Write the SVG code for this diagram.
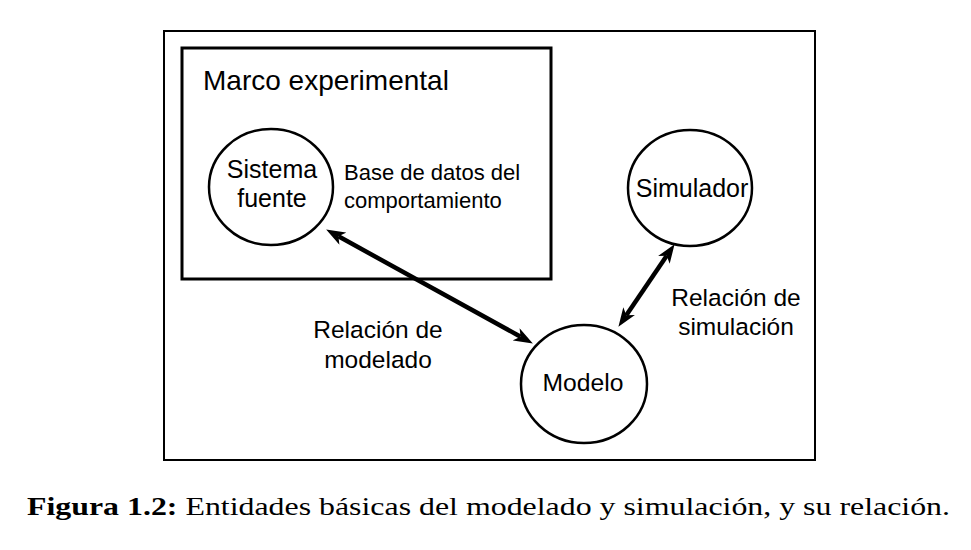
<svg xmlns="http://www.w3.org/2000/svg" width="971" height="550" viewBox="0 0 971 550">
<style>
.t{font-family:"Liberation Sans",Arial,sans-serif;fill:#000;}
.c{fill:none;stroke:#000;stroke-width:2.5;}
.ln{stroke:#000;stroke-width:4.5;fill:none;}
.cap{font-family:"Liberation Serif","Times New Roman",serif;fill:#000;font-size:26px;}
</style>
<defs>
<marker id="ah" markerUnits="userSpaceOnUse" markerWidth="20" markerHeight="14" refX="5" refY="7" orient="auto-start-reverse" viewBox="0 0 20 14">
<path d="M0,0 L19,7 L0,14 L5,7 z" fill="#000"/>
</marker>
</defs>
<rect x="0" y="0" width="971" height="550" fill="#fff"/>
<g id="frame">
<rect x="164" y="31" width="651" height="429" fill="none" stroke="#000" stroke-width="2"/>
</g>
<g id="marco">
<rect x="182" y="48" width="369" height="231" fill="none" stroke="#000" stroke-width="3"/>
<text class="t" x="203" y="90" font-size="28">Marco experimental</text>
</g>
<g id="sistema">
<ellipse class="c" cx="271" cy="187" rx="62" ry="58"/>
<text class="t" x="272" y="178" font-size="25" text-anchor="middle">Sistema</text>
<text class="t" x="272" y="207" font-size="25" text-anchor="middle">fuente</text>
</g>
<g id="base">
<text class="t" x="344" y="180" font-size="22">Base de datos del</text>
<text class="t" x="344" y="208" font-size="22">comportamiento</text>
</g>
<g id="simulador">
<ellipse class="c" cx="690" cy="188" rx="62" ry="58"/>
<text class="t" x="692" y="197" font-size="25" text-anchor="middle">Simulador</text>
</g>
<g id="modelo">
<ellipse class="c" cx="584" cy="384" rx="63" ry="59"/>
<text class="t" x="583" y="391" font-size="24.7" text-anchor="middle">Modelo</text>
</g>
<g id="connectors">
<line class="ln" x1="338.4" y1="236.3" x2="520.6" y2="336.7" marker-start="url(#ah)" marker-end="url(#ah)"/>
<line class="ln" x1="626.3" y1="315.2" x2="666.7" y2="255.8" marker-start="url(#ah)" marker-end="url(#ah)"/>
</g>
<g id="labels">
<text class="t" x="378" y="338" font-size="24.5" text-anchor="middle">Relación de</text>
<text class="t" x="378" y="368" font-size="24.5" text-anchor="middle">modelado</text>
<text class="t" x="736" y="306" font-size="24.5" text-anchor="middle">Relación de</text>
<text class="t" x="736" y="335" font-size="24.5" text-anchor="middle">simulación</text>
</g>
<g id="caption">
<text class="cap" x="27" y="515" textLength="923" lengthAdjust="spacingAndGlyphs"><tspan font-weight="bold">Figura 1.2:</tspan> Entidades básicas del modelado y simulación, y su relación.</text>
</g>
</svg>
